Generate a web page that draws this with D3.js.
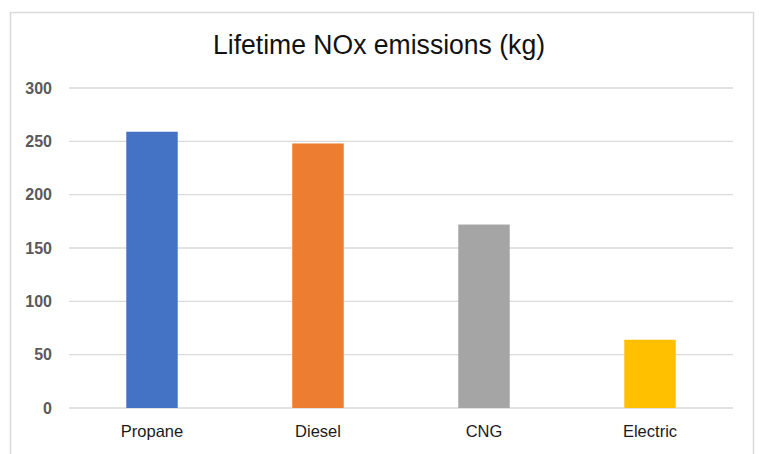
<!DOCTYPE html>
<html><head><meta charset="utf-8">
<script src="https://cdn.jsdelivr.net/npm/d3@7"></script>
<style>html,body{margin:0;padding:0;background:#fff;}svg{display:block;}</style>
</head><body>
<svg id="chart" width="759" height="454"></svg>
<script>
const categories = ["Propane", "Diesel", "CNG", "Electric"];
const values = [259, 248, 172, 64];
const colors = ["#4472C4", "#ED7D31", "#A5A5A5", "#FFC000"];
const tickValues = [0, 50, 100, 150, 200, 250, 300];
const title = "Lifetime NOx emissions (kg)";

const svg = d3.select("#chart");
const W = 759, H = 454;
const m = {left: 69, right: 26, top: 88, bottom: 46};

svg.append("rect").attr("x", 10.5).attr("y", 12.5).attr("width", 743).attr("height", 460)
  .attr("fill", "#fff").attr("stroke", "#d9d9d9").attr("stroke-width", 1.5);

const x = d3.scaleBand().domain(categories).range([m.left, W - m.right])
  .paddingInner(0.69).paddingOuter(0.345);
const y = d3.scaleLinear().domain([0, 300]).range([H - m.bottom, m.top]);

// gridlines
svg.append("g").selectAll("line").data(tickValues).join("line")
  .attr("x1", m.left).attr("x2", W - m.right)
  .attr("y1", d => y(d)).attr("y2", d => y(d))
  .attr("stroke", "#d9d9d9").attr("stroke-width", 1.3);

// y axis labels
const yAxis = d3.axisLeft(y).tickValues(tickValues).tickSize(0).tickPadding(17);
const ga = svg.append("g").attr("transform", `translate(${m.left},0)`).call(yAxis);
ga.select(".domain").remove();
ga.selectAll("text").attr("font-family", "Liberation Sans, Arial, sans-serif")
  .attr("font-size", 16).attr("font-weight", "bold").attr("fill", "#595959");

// bars
svg.append("g").selectAll("rect").data(categories).join("rect")
  .attr("x", d => x(d)).attr("width", x.bandwidth())
  .attr("y", (d, i) => y(values[i])).attr("height", (d, i) => y(0) - y(values[i]))
  .attr("fill", (d, i) => colors[i]);

// x axis labels
const xAxis = d3.axisBottom(x).tickSize(0).tickPadding(17);
const gx = svg.append("g").attr("transform", `translate(0,${y(0)})`).call(xAxis);
gx.select(".domain").remove();
gx.selectAll("text").attr("font-family", "Liberation Sans, Arial, sans-serif")
  .attr("font-size", 16.5).attr("fill", "#1a1a1a");

// title
svg.append("text").attr("x", 379).attr("y", 53.5).attr("text-anchor", "middle")
  .attr("font-family", "Liberation Sans, Arial, sans-serif").attr("font-size", 27)
  .attr("textLength", 332).attr("lengthAdjust", "spacingAndGlyphs")
  .attr("fill", "#111").text(title);
</script>
</body></html>
